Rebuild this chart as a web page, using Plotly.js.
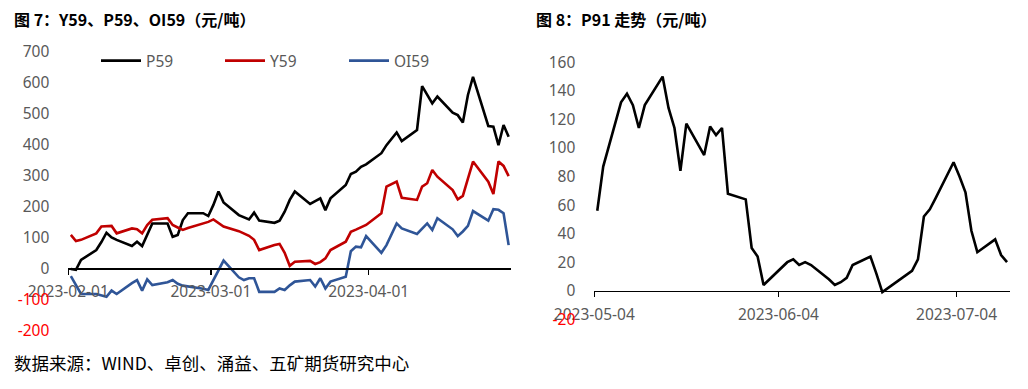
<!DOCTYPE html>
<html>
<head>
<meta charset="utf-8">
<script src="https://cdn.plot.ly/plotly-3.0.1.min.js"></script>
<style>html,body{margin:0;padding:0;background:#fff;}#chart{width:1028px;height:389px;}</style>
</head>
<body>
<div id="chart"></div>
<script>
// ---- Data: figure 7 (left) ----
const datesLeft = [
  '2023-02-01','2023-02-02','2023-02-03','2023-02-06','2023-02-07','2023-02-08','2023-02-09','2023-02-10',
  '2023-02-13','2023-02-14','2023-02-15','2023-02-16','2023-02-17','2023-02-20','2023-02-21','2023-02-22',
  '2023-02-23','2023-02-24','2023-02-27','2023-02-28',
  '2023-03-01','2023-03-02','2023-03-03','2023-03-06','2023-03-07','2023-03-08','2023-03-09','2023-03-10',
  '2023-03-13','2023-03-14','2023-03-15','2023-03-16','2023-03-17','2023-03-20','2023-03-21','2023-03-22',
  '2023-03-23','2023-03-24','2023-03-27','2023-03-28','2023-03-29','2023-03-30','2023-03-31',
  '2023-04-03','2023-04-04','2023-04-06','2023-04-07','2023-04-10','2023-04-11','2023-04-12','2023-04-13',
  '2023-04-14','2023-04-17','2023-04-18','2023-04-19','2023-04-20','2023-04-21','2023-04-24','2023-04-25',
  '2023-04-26','2023-04-27','2023-04-28'
];
const p59 = [
  -2, -5, 27, 59, 85, 115, 100, 92, 72, 86, 72, 110, 145, 145, 102, 108, 156, 178, 178, 169,
  205, 248, 213, 172, 165, 158, 180, 154, 147, 154, 183, 221, 248, 208, 217, 226, 188, 226, 269, 305, 312, 328, 336,
  372, 398, 439, 411, 447, 589, 561, 533, 555, 503, 495, 471, 560, 619, 460, 458, 398, 463, 425
];
const y59 = [
  108, 88, 92, 113, 135, 137, 137, 113, 129, 126, 113, 140, 157, 162, 140, 132, 124, 130, 145, 150,
  158, 146, 135, 120, 113, 105, 92, 59, 75, 79, 50, 8, 21, 24, 14, 20, 32, 59, 86, 118, 125, 132, 140,
  178, 264, 280, 228, 221, 264, 275, 318, 296, 253, 223, 234, 290, 345, 280, 240, 345, 331, 298
];
const oi59 = [
  -25, -55, -83, -83, -88, -92, -72, -83, -48, -38, -72, -36, -54, -45, -38, -50, -56, -58, -66, -70,
  -38, -5, 25, -29, -38, -32, -32, -76, -76, -65, -70, -55, -43, -38, -59, -32, -65, -43, -27, 55, 70, 68, 104,
  50, 75, 145, 129, 111, 128, 145, 124, 162, 126, 104, 119, 137, 185, 154, 191, 189, 178, 75
];
const leftTickVals = [-200, -100, 0, 100, 200, 300, 400, 500, 600, 700];

// ---- Data: figure 8 (right) ----
const datesRight = [
  '2023-05-04','2023-05-05','2023-05-08','2023-05-09','2023-05-10','2023-05-11','2023-05-12',
  '2023-05-15','2023-05-16','2023-05-17','2023-05-18','2023-05-19','2023-05-22','2023-05-23','2023-05-24',
  '2023-05-25','2023-05-26','2023-05-29','2023-05-30','2023-05-31','2023-06-01','2023-06-02',
  '2023-06-05','2023-06-06','2023-06-07','2023-06-08','2023-06-09','2023-06-12','2023-06-13','2023-06-14',
  '2023-06-15','2023-06-16','2023-06-19','2023-06-20','2023-06-21','2023-06-26','2023-06-27','2023-06-28',
  '2023-06-29','2023-06-30','2023-07-03','2023-07-04','2023-07-05','2023-07-06','2023-07-07',
  '2023-07-10','2023-07-11','2023-07-12'
];
const p91 = [
  56, 87, 132, 138, 130, 114, 130, 150, 128, 114, 84, 117, 95, 115, 109, 114, 68, 64, 30, 24, 4, 8,
  20, 22, 18, 20, 18, 8, 4, 6, 9, 18, 24, 12, -1, 14, 22, 52, 57, 65, 90, 80, 69, 42, 27, 36, 25, 20
];
const rightTickVals = [-20, 0, 20, 40, 60, 80, 100, 120, 140, 160];

const seriesNames = ['P59', 'Y59', 'OI59'];
const titleLeft = '图 7：Y59、P59、OI59（元/吨）';
const titleRight = '图 8：P91 走势（元/吨）';
const sourceText = '数据来源：WIND、卓创、涌益、五矿期货研究中心';

// ---- Styling ----
const W = 1028, H = 389;
const tickFont = {family: 'Noto Sans, sans-serif', size: 15.5, color: '#595959'};
const cjk = 'Noto Sans CJK SC, sans-serif';
const DAY = 86400000;
function tickText(vals) {
  return vals.map(v => v < 0 ? '<span style="color:#FF0000">' + v + '</span>' : String(v));
}
function ydom(topPx, botPx) { return [(H - botPx) / H, (H - topPx) / H]; }
const yd1 = ydom(51.7, 330.2);
const yd2 = ydom(62.3, 319.3);
const pos1 = yd1[0] + (yd1[1] - yd1[0]) * (200 / 900);
const pos2 = yd2[0] + (yd2[1] - yd2[0]) * (20 / 180);

const lineCommon = {type: 'scatter', mode: 'lines', xperiod: DAY, xperiodalignment: 'middle', hoverinfo: 'skip'};
const traces = [
  Object.assign({}, lineCommon, {x: datesLeft, y: p59, name: seriesNames[0], line: {color: '#000000', width: 2.6}, xaxis: 'x', yaxis: 'y'}),
  Object.assign({}, lineCommon, {x: datesLeft, y: y59, name: seriesNames[1], line: {color: '#C00000', width: 2.6}, xaxis: 'x', yaxis: 'y'}),
  Object.assign({}, lineCommon, {x: datesLeft, y: oi59, name: seriesNames[2], line: {color: '#2F5597', width: 2.6}, xaxis: 'x', yaxis: 'y'}),
  Object.assign({}, lineCommon, {x: datesRight, y: p91, name: 'P91', showlegend: false, line: {color: '#000000', width: 2.6}, xaxis: 'x2', yaxis: 'y2'})
];

const xCommon = {
  type: 'date', anchor: 'free', dtick: 'M1', tickformat: '%Y-%m-%d',
  showline: true, linecolor: '#000', linewidth: 1.5, ticks: 'outside', ticklen: 5, tickwidth: 1.5, tickcolor: '#000',
  showgrid: false, zeroline: false, tickfont: tickFont, ticklabelstandoff: 4, fixedrange: true
};
const yCommon = {showgrid: false, zeroline: false, showline: false, ticks: '', tickfont: tickFont, ticklabelstandoff: 18, fixedrange: true};

const layout = {
  width: W, height: H,
  margin: {l: 0, r: 0, t: 0, b: 0},
  paper_bgcolor: '#ffffff', plot_bgcolor: 'rgba(0,0,0,0)',
  showlegend: true,
  legend: {
    orientation: 'h', x: 96 / W, xanchor: 'left', y: (H - 61) / H, yanchor: 'middle',
    font: tickFont, itemwidth: 40, entrywidth: 69, entrywidthmode: 'pixels', bgcolor: 'rgba(0,0,0,0)'
  },
  xaxis: Object.assign({}, xCommon, {domain: [68.3 / W, 511.2 / W], range: ['2023-02-01', '2023-04-29'], tick0: '2023-02-01', position: pos1}),
  yaxis: Object.assign({}, yCommon, {domain: yd1, range: [-200, 700], anchor: 'x', tickvals: leftTickVals, ticktext: tickText(leftTickVals)}),
  xaxis2: Object.assign({}, xCommon, {domain: [594.3 / W, 1010 / W], range: ['2023-05-04', '2023-07-13'], tick0: '2023-05-04', position: pos2}),
  yaxis2: Object.assign({}, yCommon, {domain: yd2, range: [-20, 160], anchor: 'x2', tickvals: rightTickVals, ticktext: tickText(rightTickVals)}),
  annotations: [
    {text: '<b>' + titleLeft + '</b>', xref: 'paper', yref: 'paper', x: 12 / W, y: (H - 19) / H, xanchor: 'left', yanchor: 'middle', showarrow: false, font: {family: cjk, size: 16, color: '#000'}},
    {text: '<b>' + titleRight + '</b>', xref: 'paper', yref: 'paper', x: 534 / W, y: (H - 19) / H, xanchor: 'left', yanchor: 'middle', showarrow: false, font: {family: cjk, size: 16, color: '#000'}},
    {text: sourceText, xref: 'paper', yref: 'paper', x: 12 / W, y: (H - 362.5) / H, xanchor: 'left', yanchor: 'middle', showarrow: false, font: {family: cjk, size: 17.5, color: '#000'}}
  ]
};

Plotly.newPlot('chart', traces, layout, {displayModeBar: false, staticPlot: true});
</script>
</body>
</html>
